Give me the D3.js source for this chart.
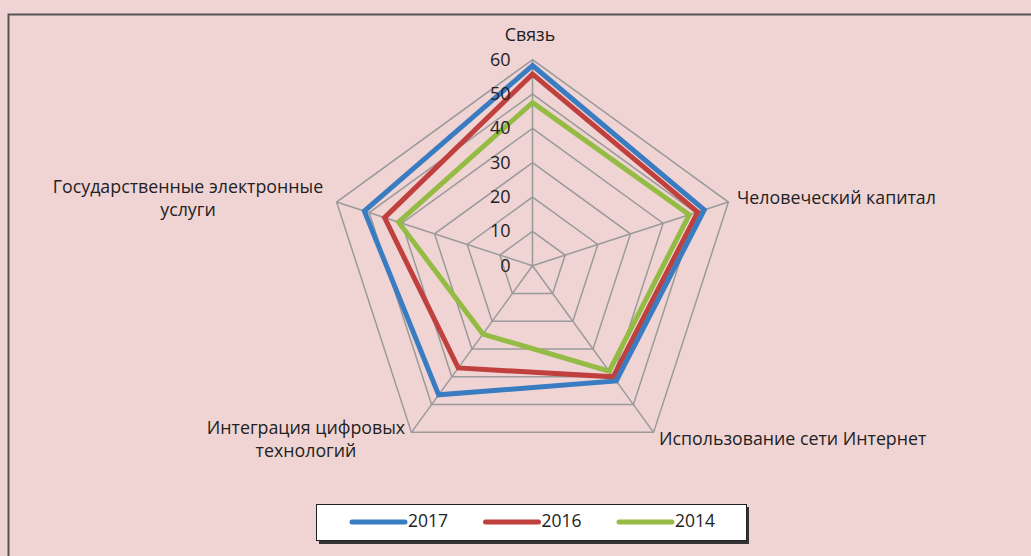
<!DOCTYPE html>
<html>
<head>
<meta charset="utf-8">
<script src="https://cdn.jsdelivr.net/npm/d3@7"></script>
<style>
  body { margin: 0; background: #f0d4d4; }
  svg { display: block; font-family: "Open Sans", "Noto Sans", sans-serif; }
</style>
</head>
<body>
<svg id="chart"></svg>
<script>
const categories = ['Связь', 'Человеческий капитал', 'Использование сети Интернет', 'Интеграция цифровых технологий', 'Государственные электронные услуги'];
const years = ['2017', '2016', '2014'];
const values2017 = [58.3, 52.6, 41.5, 46.5, 51.5];
const values2016 = [55.8, 50.6, 40.0, 36.8, 45.3];
const values2014 = [47.5, 48.0, 38.0, 24.6, 41.0];
const ticks = [0, 10, 20, 30, 40, 50, 60];

const series = [
    { name: years[0], values: values2017, color: '#3a7cc2' },
    { name: years[1], values: values2016, color: '#c0403d' },
    { name: years[2], values: values2014, color: '#94bc45' }
];

const width = 1031, height = 556;
const cx = 532.5, cy = 265.7;

const svg = d3.select('#chart')
    .attr('width', width)
    .attr('height', height);

// frame (only top and left edges visible)
svg.append('path')
    .attr('d', `M8.5,${height} L8.5,14.5 L${width},14.5`)
    .attr('fill', 'none')
    .attr('stroke', '#555')
    .attr('stroke-width', 2);

const rScale = d3.scaleLinear()
    .domain([0, 60])
    .range([0, 206]);

const n = categories.length;
const angle = i => 2 * Math.PI / n * i - Math.PI / 2;
const px = (v, i) => cx + rScale(v) * Math.cos(angle(i));
const py = (v, i) => cy + rScale(v) * Math.sin(angle(i));

const line = d3.line()
    .x((d, i) => px(d, i))
    .y((d, i) => py(d, i));

const chart = svg.append('g');

// grid rings
chart.selectAll('path.grid')
    .data(ticks.slice(1))
    .join('path')
    .attr('class', 'grid')
    .attr('d', t => line(categories.map(() => t)) + 'Z')
    .attr('fill', 'none')
    .attr('stroke', '#9a9a9a')
    .attr('stroke-width', 1.5);

// spokes
chart.selectAll('line.spoke')
    .data(categories)
    .join('line')
    .attr('class', 'spoke')
    .attr('x1', cx).attr('y1', cy)
    .attr('x2', (d, i) => px(60, i))
    .attr('y2', (d, i) => py(60, i))
    .attr('stroke', '#9a9a9a')
    .attr('stroke-width', 1.5);

// series
chart.selectAll('path.series')
    .data(series.slice().reverse())
    .join('path')
    .attr('class', 'series')
    .attr('d', d => line(d.values) + 'Z')
    .attr('fill', 'none')
    .attr('stroke', d => d.color)
    .attr('stroke-width', 5)
    .attr('stroke-linejoin', 'miter');

// tick labels
chart.selectAll('text.tick')
    .data(ticks)
    .join('text')
    .attr('class', 'tick')
    .attr('x', cx - 22)
    .attr('y', t => cy - rScale(t) + 1)
    .attr('text-anchor', 'end')
    .attr('dominant-baseline', 'middle')
    .attr('font-size', '18px')
    .attr('fill', '#222')
    .text(t => t);

// category labels
const labelPos = [
    { x: 530, y: 36, anchor: 'middle', lines: ['Связь'] },
    { x: 737, y: 199, anchor: 'start', lines: ['Человеческий капитал'] },
    { x: 659, y: 440, anchor: 'start', lines: ['Использование сети Интернет'] },
    { x: 306, y: 429, anchor: 'middle', lines: ['Интеграция цифровых', 'технологий'] },
    { x: 188, y: 188, anchor: 'middle', lines: ['Государственные электронные', 'услуги'] }
];

const cat = chart.selectAll('text.cat')
    .data(categories)
    .join('text')
    .attr('class', 'cat')
    .attr('text-anchor', (d, i) => labelPos[i].anchor)
    .attr('font-size', '17.8px')
    .attr('fill', '#222');

cat.selectAll('tspan')
    .data((d, i) => labelPos[i].lines.map((l, j) => ({ l, j, p: labelPos[i] })))
    .join('tspan')
    .attr('x', d => d.p.x)
    .attr('y', d => d.p.y + d.j * 23)
    .attr('dominant-baseline', 'middle')
    .text(d => d.l);

// legend
const legend = svg.append('g');
legend.append('rect')
    .attr('x', 319).attr('y', 507)
    .attr('width', 430).attr('height', 37)
    .attr('fill', '#333');
legend.append('rect')
    .attr('x', 316.5).attr('y', 504.5)
    .attr('width', 430).attr('height', 36)
    .attr('fill', '#fff')
    .attr('stroke', '#222')
    .attr('stroke-width', 1);

const legendX = d3.scalePoint()
    .domain(years)
    .range([352, 619]);

const item = legend.selectAll('g.item')
    .data(series)
    .join('g')
    .attr('class', 'item')
    .attr('transform', d => `translate(${legendX(d.name)}, 522)`);

item.append('line')
    .attr('x1', 0).attr('x2', 53)
    .attr('stroke', d => d.color)
    .attr('stroke-width', 5)
    .attr('stroke-linecap', 'round');

item.append('text')
    .attr('x', 56)
    .attr('dominant-baseline', 'middle')
    .attr('font-size', '17.5px')
    .attr('fill', '#222')
    .text(d => d.name);
</script>
</body>
</html>
